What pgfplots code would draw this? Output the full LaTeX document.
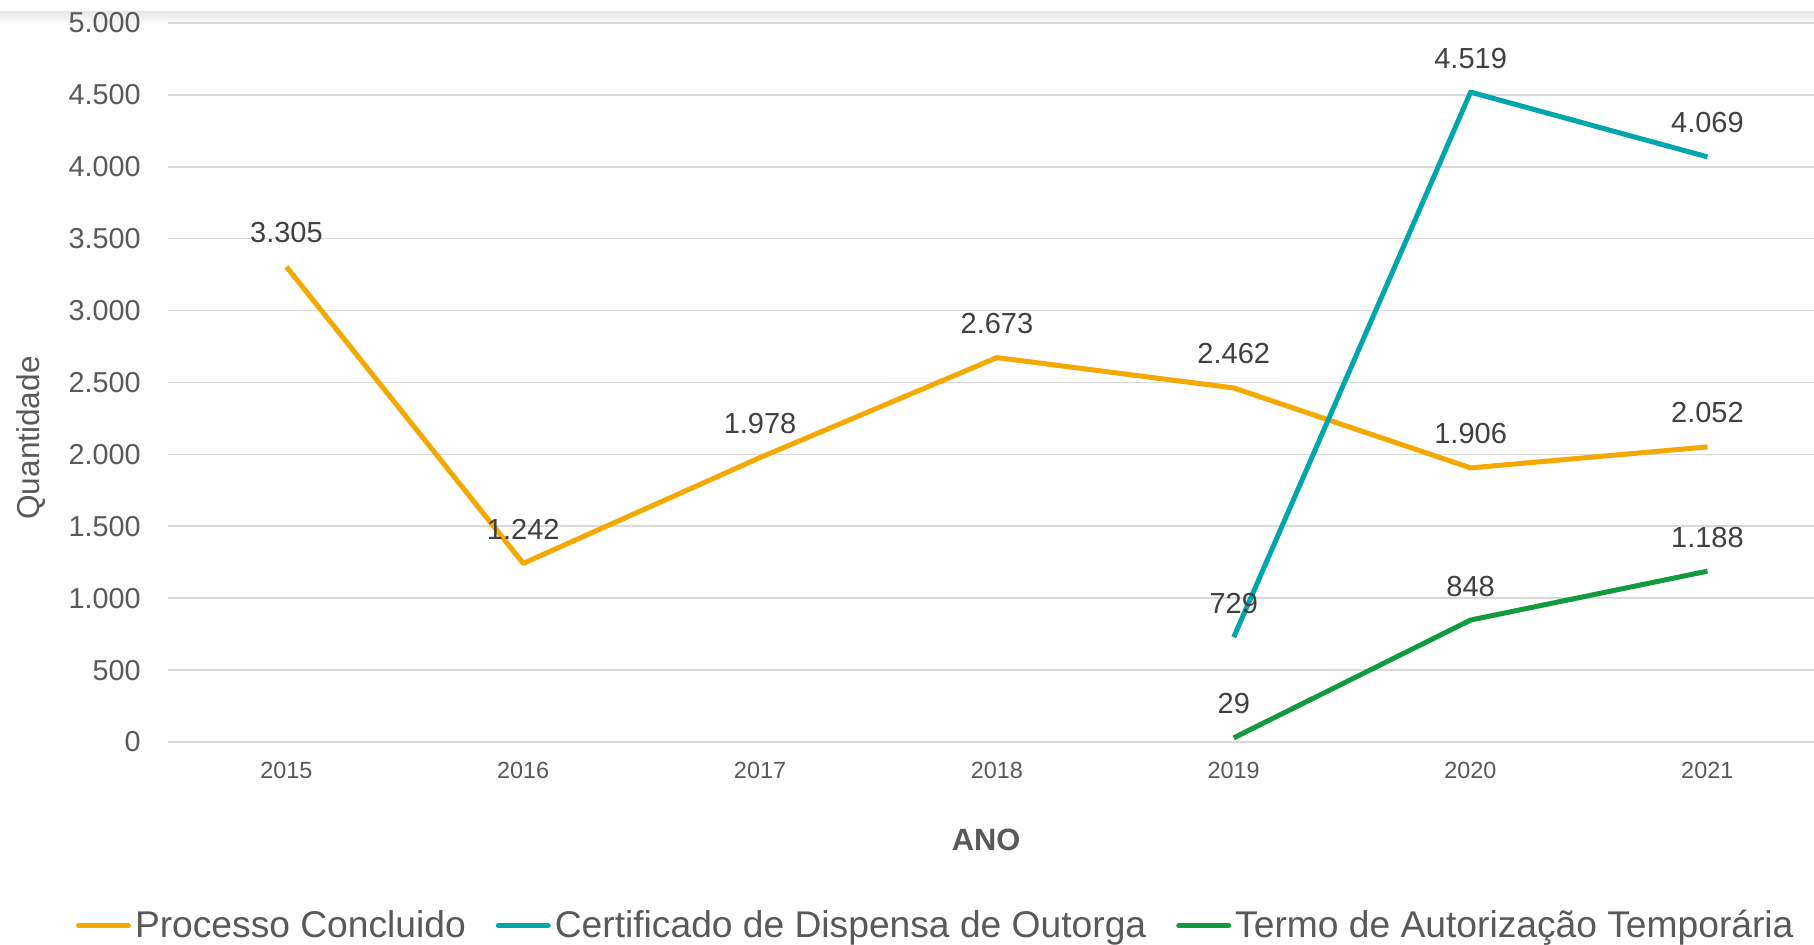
\documentclass[border=0pt]{standalone}
\usepackage{pgfplots}
\pgfplotsset{compat=1.18}
\usepackage{fontspec}
\setmainfont{Liberation Sans}
\definecolor{corange}{HTML}{F5A800}
\definecolor{cteal}{HTML}{00A6AA}
\definecolor{cgreen}{HTML}{129A3E}
\definecolor{tgray}{HTML}{595959}
\definecolor{dgray}{HTML}{404040}
\definecolor{ggray}{HTML}{D9D9D9}
\begin{document}
\begin{tikzpicture}[x=1pt,y=1pt]
\useasboundingbox (0,0) rectangle (907,472.5);
\fill[white] (0,0) rectangle (907,472.5);
\shade[top color=black!9, bottom color=white] (0,466.5) rectangle (907,460);
\begin{axis}[
  at={(84pt,101.5pt)}, anchor=south west,
  scale only axis, width=823pt, height=359.5pt,
  xmin=2014.5, xmax=2021.45, ymin=0, ymax=5000,
  axis line style={draw=none},
  xtick={2015,...,2021},
  xticklabels={2015,2016,2017,2018,2019,2020,2021},
  ytick={0,500,...,5000},
  major tick length=0pt,
  ymajorgrids, grid style={ggray, line width=0.8pt},
  /pgf/number format/assume math mode=true,
  /pgf/number format/1000 sep={.},
  yticklabel style={anchor=east, inner sep=0pt, xshift=-13.5pt, text=tgray, font=\fontsize{14.4}{16}\selectfont},
  xticklabel style={anchor=north, inner sep=0pt, yshift=-10pt, text=tgray, font=\fontsize{11.7}{13}\selectfont},
  scaled y ticks=false,
  clip=false,
  nodes near coords={\pgfmathprintnumber[fixed,precision=0,1000 sep={.},assume math mode=true]{\pgfplotspointmeta}},
  every node near coord/.style={anchor=center, yshift=17pt, text=dgray, font=\fontsize{14.5}{16}\selectfont},
  legend columns=3,
  legend style={at={(0,0)}, anchor=west, xshift=-46pt, yshift=-91.8pt, draw=none, fill=none, inner sep=0pt, outer sep=0pt,
    font=\fontsize{18.6}{21}\selectfont, text=tgray,
    /tikz/every even column/.append style={column sep=13pt}},
  legend cell align=left,
  legend image code/.code={\draw[line width=2.5pt, line cap=round] (0pt,0pt) -- (25pt,0pt);},
]
\addplot[corange, line width=2.5pt, line join=round] coordinates {
(2015,3305) (2016,1242) (2017,1978) (2018,2673) (2019,2462) (2020,1906) (2021,2052)};
\addlegendentry{Processo Concluido}
\addplot[cteal, line width=2.5pt, line join=round] coordinates {
(2019,729) (2020,4519) (2021,4069)};
\addlegendentry{Certificado de Dispensa de Outorga}
\addplot[cgreen, line width=2.5pt, line join=round] coordinates {
(2019,29) (2020,848) (2021,1188)};
\addlegendentry{Termo de Autorização Temporária}
\end{axis}
\node[text=tgray, font=\bfseries\fontsize{15.4}{17}\selectfont] at (493,52.5) {ANO};
\node[text=tgray, rotate=90, font=\fontsize{15.8}{18}\selectfont] at (15.5,253.5) {Quantidade};
\end{tikzpicture}
\end{document}
